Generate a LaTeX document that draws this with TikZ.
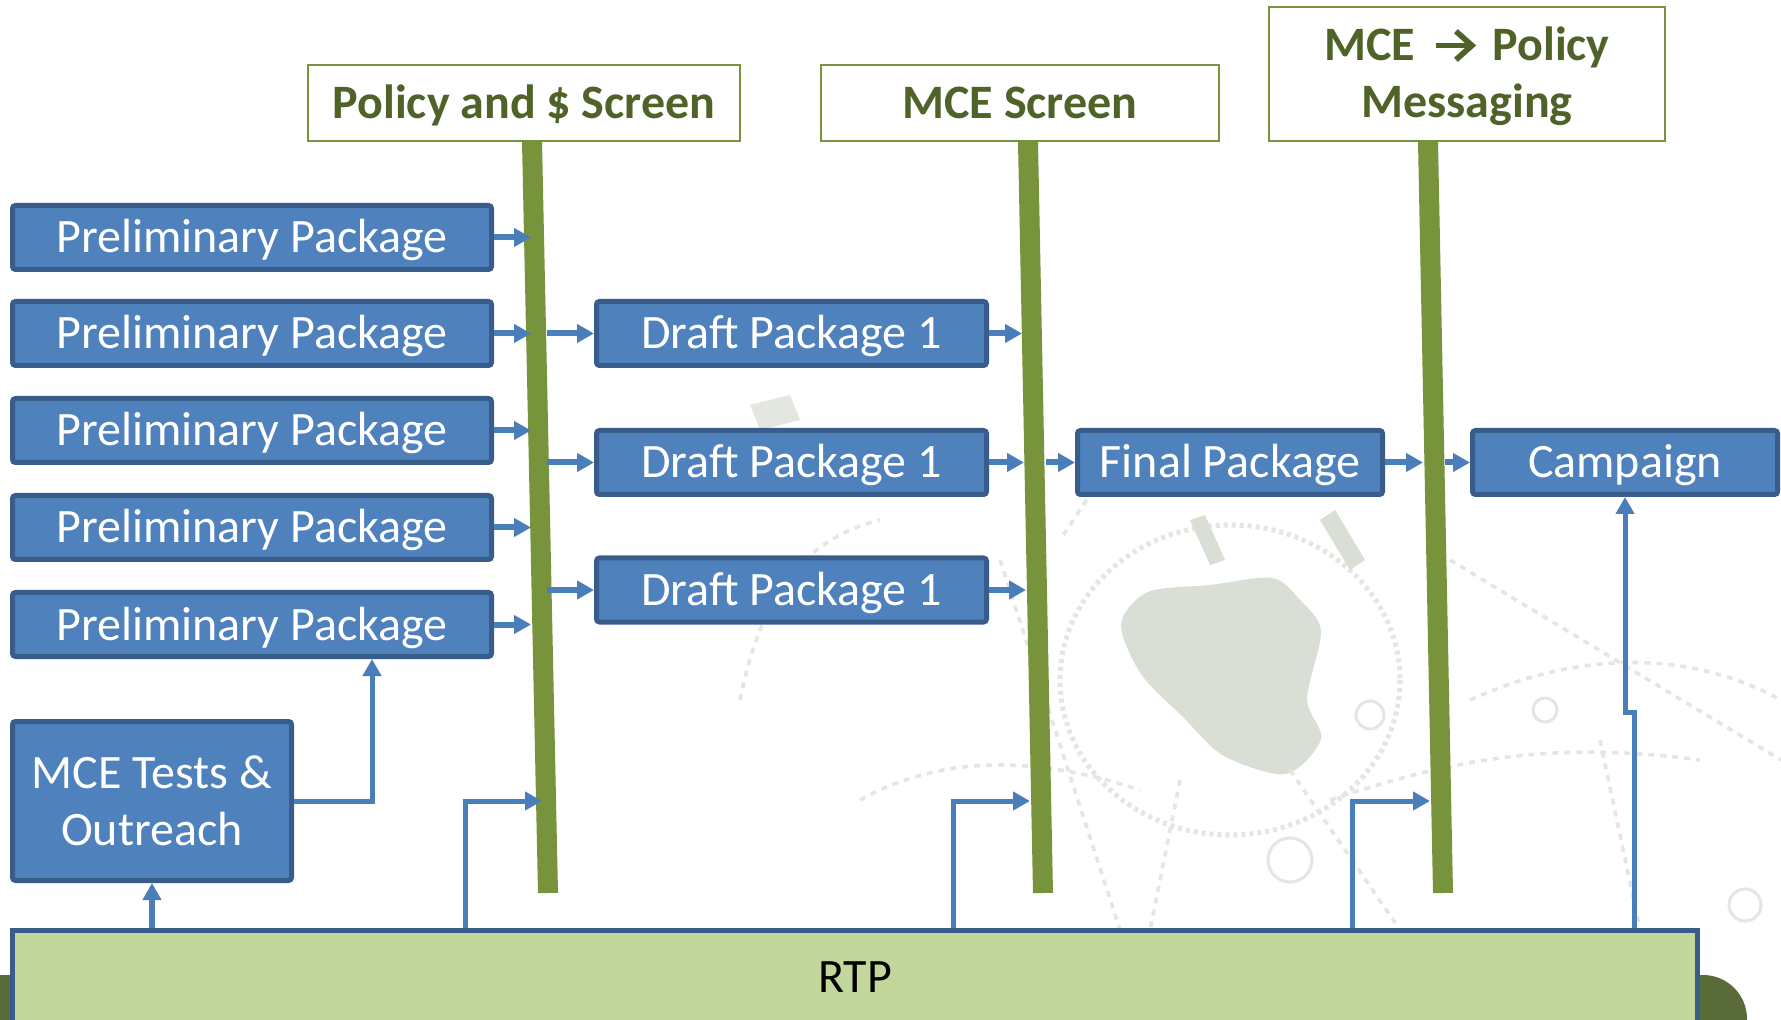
\documentclass[tikz,border=0pt]{standalone}
\usepackage{fontspec}
\setmainfont{Carlito}
\usetikzlibrary{arrows.meta}
\definecolor{boxfill}{HTML}{4F81BD}
\definecolor{boxline}{HTML}{385D8A}
\definecolor{arrowc}{HTML}{4A7EBB}
\definecolor{barc}{HTML}{77933C}
\definecolor{hdrtext}{HTML}{4F6228}
\definecolor{rtpfill}{HTML}{C3D69B}
\definecolor{darkbase}{RGB}{88,107,56}
\definecolor{mapc}{HTML}{D9DFD4}
\definecolor{mapl}{HTML}{E4E7DF}
\newcommand{\hdrarrow}{\tikz[baseline=0pt]{\draw[hdrtext, line width=2.8pt, line cap=butt] (0pt,7.75pt) -- (17pt,7.75pt); \draw[hdrtext, line width=2.8pt, line join=miter] (10pt,0.6pt) -- (18pt,7.75pt) -- (10pt,14.9pt);}}
\begin{document}
\begin{tikzpicture}[x=0.5pt,y=-0.5pt,
  bluebox/.style={draw=boxline, fill=boxfill, line width=2.5pt, rounded corners=1.5pt,
    inner sep=0pt, text=white, font=\fontsize{24}{28.5}\selectfont,
    minimum height=32pt, text height=15.5pt, text depth=0pt},
  hdr/.style={draw=barc, fill=white, line width=1pt, inner sep=0pt, text=hdrtext,
    font=\bfseries\fontsize{24}{28.5}\selectfont, minimum height=38pt,
    text height=15.5pt, text depth=0pt},
  greenbar/.style={draw=barc, line width=10pt},
  sarrow/.style={draw=arrowc, line width=3pt, -{Triangle[length=8.5pt,width=9pt]}},
  carrow/.style={draw=arrowc, line width=2.5pt, line join=miter, -{Triangle[length=8.5pt,width=9pt]}}
]
\useasboundingbox (0,0) rectangle (1781,1020);
\fill[white] (0,0) rectangle (1781,1020);

% faint background map
\fill[mapc] plot[smooth cycle] coordinates {(1148,592) (1210,585) (1272,578) (1300,600) (1321,631) (1307,699) (1321,739) (1286,774) (1224,756) (1183,717) (1141,674) (1121,624)};
\draw[mapl, line width=2.5pt, dash pattern=on 2pt off 2pt] (1230,680) ellipse [x radius=170, y radius=155];
\begin{scope}[mapl, line width=1.8pt, dash pattern=on 3pt off 3pt]
  \draw (1000,560) -- (1120,930);
  \draw (1180,780) -- (1150,930);
  \draw (1290,770) -- (1400,930);
  \draw (1470,700) .. controls (1580,650) and (1690,650) .. (1781,700);
  \draw (860,800) .. controls (950,750) and (1050,760) .. (1140,790);
  \draw (1450,560) -- (1781,760);
  \draw (740,700) .. controls (760,600) and (800,540) .. (880,520);
  \draw (1330,800) .. controls (1450,760) and (1550,740) .. (1700,760);
  \draw (1600,740) -- (1640,930);
  \draw (1100,480) -- (1060,540);
\end{scope}
\begin{scope}[mapl, line width=1.5pt]
  \draw (1370,715) circle [radius=14];
  \draw (1545,710) circle [radius=12];
  \draw (1745,905) circle [radius=16];
  \draw (1290,860) circle [radius=22];
\end{scope}
\fill[mapl] (750,405) -- (790,395) -- (800,420) -- (760,430) -- cycle;
\fill[mapc] (1320,520) -- (1335,510) -- (1365,560) -- (1350,570) -- cycle;
\fill[mapc] (1190,520) -- (1205,515) -- (1225,560) -- (1210,565) -- cycle;

% dark base behind RTP
\fill[darkbase, rounded corners=22pt] (-80,975) -- (1747,975) -- (1747,1120) -- (-80,1120) -- cycle;

% RTP
\node[draw=boxline, fill=rtpfill, line width=2.5pt, inner sep=0pt, text=black,
  font=\fontsize{24}{28.5}\selectfont, minimum width=842.5pt, minimum height=46.5pt,
  text height=15.5pt, text depth=0pt] (RTP) at (855,977) {RTP};

% bars
\coordinate (b1t) at (532,142); \coordinate (b1b) at (548,893);
\coordinate (b2t) at (1028,142); \coordinate (b2b) at (1043,893);
\coordinate (b3t) at (1428,142); \coordinate (b3b) at (1443,893);
\draw[greenbar] (b1t) -- (b1b);
\draw[greenbar] (b2t) -- (b2b);
\draw[greenbar] (b3t) -- (b3b);

% headers
\node[hdr, minimum width=215.75pt] (H1) at (524,103) {Policy and \$ Screen};
\node[hdr, minimum width=199pt] (H2) at (1020,103) {MCE Screen};
\node[hdr, minimum width=198.25pt, minimum height=67pt, align=center,
  text height=44pt, text depth=0pt] (H3) at (1467,74) {MCE\hspace{9pt}\hdrarrow\hspace{9pt}Policy\\Messaging};

% blue boxes
\node[bluebox, minimum width=239.5pt] (P1) at (252,237.5) {Preliminary Package};
\node[bluebox, minimum width=239.5pt] (P2) at (252,333.5) {Preliminary Package};
\node[bluebox, minimum width=239.5pt] (P3) at (252,430.5) {Preliminary Package};
\node[bluebox, minimum width=239.5pt] (P4) at (252,527.5) {Preliminary Package};
\node[bluebox, minimum width=239.5pt] (P5) at (252,624.5) {Preliminary Package};
\node[bluebox, minimum width=195pt] (D1) at (791.5,333.5) {Draft Package 1};
\node[bluebox, minimum width=195pt] (D2) at (791.5,462.5) {Draft Package 1};
\node[bluebox, minimum width=195pt] (D3) at (791.5,590) {Draft Package 1};
\node[bluebox, minimum width=152.5pt] (F) at (1230,462.5) {Final Package};
\node[bluebox, minimum width=152.5pt] (C) at (1625,462.5) {Campaign};
\node[bluebox, minimum width=139.5pt, minimum height=79.5pt, align=center,
  text height=44pt, text depth=0pt] (M) at (152,801) {MCE Tests \&\\Outreach};

% short arrows
\coordinate (x1) at (531,0);
\coordinate (x1r) at (547,0);
\coordinate (x2a) at (1022,0);
\coordinate (x2b) at (1024,0);
\coordinate (x2c) at (1026,0);
\coordinate (x2r) at (1046,0);
\coordinate (x3) at (1423,0);
\coordinate (x3r) at (1445,0);
\draw[sarrow] (P1.east) -- (P1.east -| x1);
\draw[sarrow] (P2.east) -- (P2.east -| x1);
\draw[sarrow] (P3.east) -- (P3.east -| x1);
\draw[sarrow] (P4.east) -- (P4.east -| x1);
\draw[sarrow] (P5.east) -- (P5.east -| x1);
\draw[sarrow] (D1.west -| x1r) -- (D1.west);
\draw[sarrow] (D2.west -| x1r) -- (D2.west);
\draw[sarrow] (D3.west -| x1r) -- (D3.west);
\draw[sarrow] (D1.east) -- (D1.east -| x2a);
\draw[sarrow] (D2.east) -- (D2.east -| x2b);
\draw[sarrow] (D3.east) -- (D3.east -| x2c);
\draw[sarrow] (F.west -| x2r) -- (F.west);
\draw[sarrow] (F.east) -- (F.east -| x3);
\draw[sarrow] (C.west -| x3r) -- (C.west);

% connectors from RTP and MCE Tests
\coordinate (r1) at (465,801); \coordinate (t1) at (542,801);
\coordinate (r2) at (953.5,801); \coordinate (t2) at (1030,801);
\coordinate (r3) at (1352,801); \coordinate (t3) at (1430,801);
\coordinate (k1) at (1634,712); \coordinate (k2) at (1625,712);
\coordinate (c5) at (372,801);
\draw[carrow] (RTP.north -| r1) -- (r1) -- (t1);
\draw[carrow] (RTP.north -| r2) -- (r2) -- (t2);
\draw[carrow] (RTP.north -| r3) -- (r3) -- (t3);
\draw[carrow] (RTP.north -| k1) -- (k1) -- (k2) -- (C.south -| k2);
\draw[carrow] (M.east) -- (c5) -- (P5.south -| c5);
\draw[sarrow] (RTP.north -| M.south) -- (M.south);
\end{tikzpicture}
\end{document}
